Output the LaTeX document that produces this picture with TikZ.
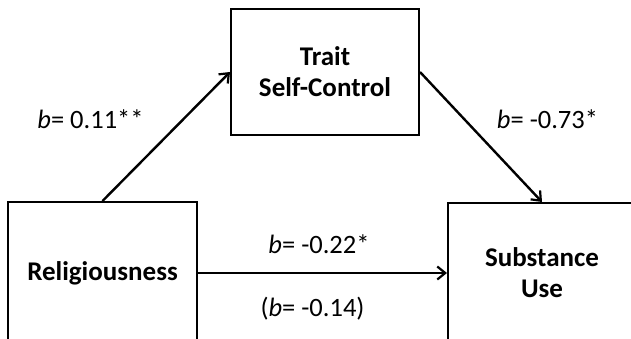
\documentclass[tikz,border=0pt]{standalone}
\usepackage{fontspec}
\setmainfont{Carlito}
\usetikzlibrary{arrows.meta}
\tikzset{
  box/.style={draw=black, line width=2pt, fill=white, rectangle, inner sep=0pt,
    align=center, font=\fontsize{27}{31}\selectfont\bfseries},
  conn/.style={line width=2.4pt, -{Straight Barb[length=8pt,width=13pt,line width=2.2pt]}},
  lbl/.style={inner sep=0pt, anchor=base, font=\fontsize{26.5}{31}\selectfont}
}
\begin{document}
\begin{tikzpicture}[x=1pt,y=-1pt]
\useasboundingbox (0,0) rectangle (631,339);
\clip (0,0) rectangle (631,339);
\node[box, minimum width=188pt, minimum height=126pt] (top) at (325,72) {Trait\\Self-Control};
\node[box, minimum width=189pt, minimum height=142pt] (rel) at (102.5,273) {Religiousness};
\node[box, minimum width=200pt, minimum height=140pt, text width=188pt] (sub) at (548,273) {\hspace*{-12pt}Substance\\\hspace*{-12pt}Use};
\draw[conn] (rel.north) -- (top.west);
\draw[conn] (top.east) -- (sub.north -| 542,0);
\draw[conn] (rel.east) -- (sub.west);
\node[lbl] (l1) at (90.5,129) {\textit{b}= 0.11**};
\node[lbl] (l2) at (547.5,129) {\textit{b}= -0.73*};
\node[lbl] (l3) at (319,253) {\textit{b}= -0.22*};
\node[lbl] (l4) at (312.5,316) {(\textit{b}= -0.14)};
\end{tikzpicture}
\end{document}
